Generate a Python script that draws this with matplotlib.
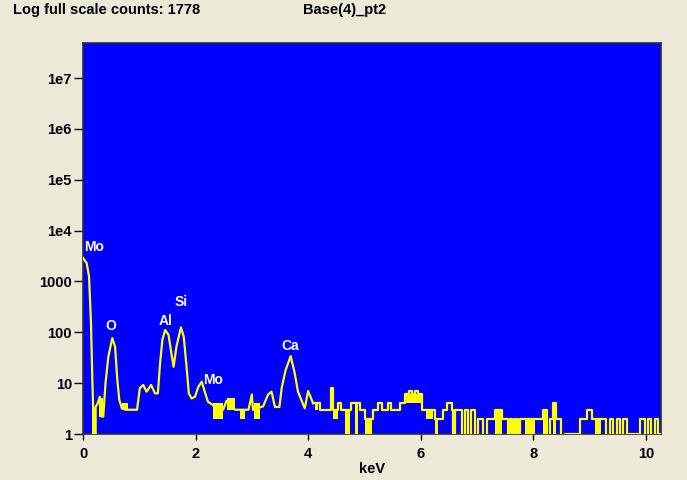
import numpy as np
import matplotlib
matplotlib.use('Agg')
import matplotlib.pyplot as plt

# smooth part of the spectrum (keV, counts), 0 - 4.1 keV
pk_kev = [0.0, 0.065, 0.107, 0.142, 0.166, 0.18, 0.195, 0.225, 0.26, 0.30, 0.33, 0.36,
          0.40, 0.45, 0.52, 0.57, 0.61, 0.645, 0.69, 0.76, 0.82, 0.96, 1.01, 1.07, 1.13,
          1.21, 1.28, 1.33, 1.37, 1.41, 1.46, 1.52, 1.58, 1.61, 1.66, 1.74, 1.79, 1.84,
          1.88, 1.93, 1.99, 2.05, 2.11, 2.17, 2.22, 2.31, 2.36, 2.49, 2.55, 2.70, 2.79,
          2.94, 3.00, 3.02, 3.20, 3.29, 3.35, 3.41, 3.49, 3.53, 3.60, 3.69, 3.76, 3.82,
          3.94, 4.00, 4.09]
pk_cts = [2900, 2300, 1250, 153, 11.5, 3.4, 0, 3.4, 4, 5.4, 2.2, 2.2,
          10, 33, 77, 52, 11.5, 4.7, 3.2, 3, 3, 3, 8, 9.2, 6.8,
          9.2, 6.3, 6.3, 25, 71, 111, 89, 33, 21, 52, 125, 82, 21,
          6.3, 5, 5.4, 8.5, 10.7, 6.4, 4.3, 3.7, 3, 3, 4.5, 3, 3,
          3, 6, 3, 3.5, 6, 6.8, 3.4, 3.4, 8, 18, 34, 16, 6.8,
          3.2, 7, 4]

# step part of the spectrum, 4.09 - 10.27 keV (segment left edges, counts)
tail_kev = [4.09, 4.12, 4.18, 4.21, 4.40, 4.44, 4.53, 4.59, 4.65, 4.74, 4.77, 4.83,
            4.89, 4.92, 5.01, 5.13, 5.16, 5.25, 5.31, 5.42, 5.48, 5.63, 5.72, 5.80,
            5.84, 5.90, 5.95, 6.02, 6.10, 6.25, 6.31, 6.40, 6.46, 6.55, 6.58, 6.61,
            6.73, 6.78, 6.84, 6.90, 6.96, 7.02, 7.11, 7.17, 7.32, 7.44, 7.55, 7.58,
            7.62, 7.65, 7.68, 7.71, 7.73, 7.76, 7.85, 8.03, 8.18, 8.24, 8.29, 8.35,
            8.41, 8.50, 8.56, 8.83, 8.95, 9.04, 9.09, 9.21, 9.30, 9.36, 9.42, 9.48,
            9.54, 9.60, 9.66, 9.89, 9.98, 10.04, 10.10, 10.16, 10.22, 10.27]
tail_cts = [4, 4, 4, 3, 8, 3, 4, 3, 3, 3, 4, 4,
            4, 3, 2, 2, 3, 4, 3, 4, 3, 4, 6, 7,
            6, 7, 6, 3, 3, 2, 2, 3, 4, 3, 0, 3,
            0, 3, 0, 3, 0, 2, 0, 2, 3, 2, 0, 2,
            0, 2, 0, 2, 0, 2, 2, 2, 3, 0, 2, 4,
            2, 0, 1, 2, 3, 2, 2, 2, 0, 2, 0, 2,
            0, 2, 1, 2, 0, 2, 0, 2, 1, 1]

# noisy stretches that render as solid yellow (start, end, low, high counts)
blk_start = [0.17, 0.28, 0.70, 2.31, 2.55, 2.79, 3.03, 4.12, 4.44, 4.65, 4.83, 5.01,
             5.72, 6.10, 6.25, 7.32, 7.85, 8.18, 8.35, 9.09]
blk_end = [0.23, 0.36, 0.80, 2.49, 2.70, 2.88, 3.15, 4.18, 4.53, 4.74, 4.89, 5.13,
           6.02, 6.22, 6.31, 7.44, 8.03, 8.24, 8.41, 9.21]
blk_lo = [0, 2.2, 3, 2, 3, 2, 2, 3, 2, 0, 0, 0, 4, 2, 0, 0, 0, 0, 0, 0]
blk_hi = [3.4, 5, 4, 4, 5, 3, 4, 4, 3, 3, 4, 2, 6, 3, 2, 3, 2, 3, 4, 2]

# peak labels
el_names = ['Mo', 'O', 'Al', 'Si', 'Mo', 'Ca']
el_kev = [0.02, 0.50, 1.47, 1.74, 2.13, 3.69]
el_cts = [4800, 134, 167, 396, 11.5, 54]
el_ha = ['left', 'center', 'center', 'center', 'left', 'center']

bg = '#ece9d8'
yel = '#ffff00'
plt.rcParams['font.family'] = ['Liberation Sans', 'DejaVu Sans']
plt.rcParams['font.weight'] = 'bold'

fig = plt.figure(figsize=(6.87, 4.8), dpi=100, facecolor=bg)
ax = fig.add_axes([83 / 687, 1 - 434 / 480, 578 / 687, 391 / 480])
ax.set_facecolor('#0000ff')
ax.set_yscale('log', nonpositive='clip')

ax.bar(blk_start, np.array(blk_hi) - np.array(blk_lo),
       width=np.array(blk_end) - np.array(blk_start), bottom=blk_lo,
       align='edge', color=yel, linewidth=0, zorder=3)
ax.plot(pk_kev, pk_cts, color=yel, lw=1.6, zorder=3)
ax.step(tail_kev, tail_cts, where='post', color=yel, lw=1.6, zorder=3)

for n, x, y, h in zip(el_names, el_kev, el_cts, el_ha):
    ax.text(x, y, n, color='white', fontsize=10, fontweight='bold', ha=h, va='center')

ax.set_xlim(0, 10.27)
ax.set_ylim(1, 4.9e7)
ax.set_xticks([0, 2, 4, 6, 8, 10])
ax.set_yticks([1, 10, 100, 1000, 1e4, 1e5, 1e6, 1e7])
ax.set_yticklabels(['1', '10', '100', '1000', '1e4', '1e5', '1e6', '1e7'])
ax.minorticks_off()
ax.tick_params(axis='y', length=6.5, width=1, pad=1.5, labelsize=10.5)
ax.tick_params(axis='x', length=4, width=1, pad=5, labelsize=10.5)
for s in ax.spines.values():
    s.set_color('#303030')
    s.set_linewidth(1.2)

fig.text(372 / 687, 1 - 469 / 480, 'keV', fontsize=10.5,
         fontweight='bold', ha='center', va='center')
fig.text(13 / 687, 1 - 10 / 480, 'Log full scale counts: 1778', fontsize=10.5,
         fontweight='bold', ha='left', va='center')
fig.text(345 / 687, 1 - 10 / 480, 'Base(4)_pt2', fontsize=10.5,
         fontweight='bold', ha='center', va='center')

fig.savefig('out.png', dpi=100, facecolor=bg)
